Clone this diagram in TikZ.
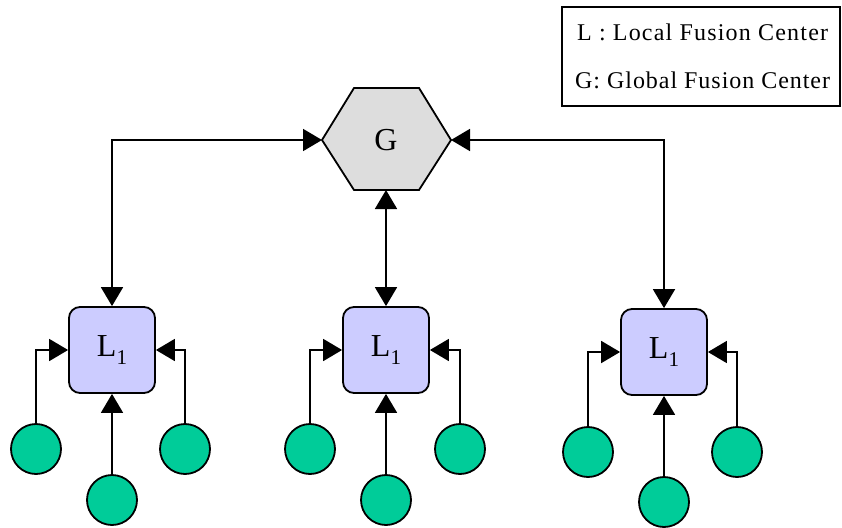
\documentclass[tikz,border=0pt]{standalone}
\usepackage{fontspec}
\setmainfont{Liberation Serif}
\usetikzlibrary{arrows.meta}
\definecolor{localfill}{HTML}{CCCCFF}
\definecolor{sensorfill}{HTML}{00CC99}
\definecolor{globalfill}{HTML}{DDDDDD}
\tikzset{
  tip/.tip={Triangle[length=19pt,width=22pt]},
  link/.style={line width=1.8pt, -tip},
  duallink/.style={line width=1.8pt, tip-tip},
  localbox/.style={draw, line width=1.8pt, fill=localfill, rounded corners=11pt,
    minimum width=86pt, minimum height=86pt, inner sep=0pt,
    font=\fontsize{32}{32}\selectfont},
  sensor/.style={draw, line width=1.8pt, fill=sensorfill, circle,
    minimum size=50pt, inner sep=0pt},
  legendtext/.style={anchor=base west, inner sep=0pt}
}
\newcommand{\Lone}{L\raisebox{-0.22em}{\fontsize{21}{21}\selectfont 1}}
\begin{document}
\begin{tikzpicture}[x=1pt, y=-1pt]
\useasboundingbox (0,0) rectangle (842,527);

% legend
\draw[line width=1.4pt] (562,7) rectangle (840,106);
\node[legendtext, font=\fontsize{24}{24}\selectfont\addfontfeatures{LetterSpace=5}]
  (legl) at (577,41) {L : Local Fusion Center};
\node[legendtext, font=\fontsize{24}{24}\selectfont\addfontfeatures{LetterSpace=4}]
  (legg) at (575,88) {G: Global Fusion Center};

% global fusion center (hexagon)
\coordinate (gl) at (322,140);
\coordinate (gr) at (451,140);
\coordinate (gb) at (386,190);
\draw[line width=1.8pt, fill=globalfill, line join=miter]
  (gl) -- (354,88) -- (419,88) -- (gr) -- (419,190) -- (354,190) -- cycle;
\node[font=\fontsize{32}{32}\selectfont] (g) at (386,140) {G};

% local fusion centers
\node[localbox] (l1) at (112,350) {\Lone};
\node[localbox] (l2) at (386,350) {\Lone};
\node[localbox] (l3) at (664,352) {\Lone};

% sensors
\node[sensor] (s1a) at (36,449) {};
\node[sensor] (s1b) at (112,500) {};
\node[sensor] (s1c) at (185,449) {};
\node[sensor] (s2a) at (310,449) {};
\node[sensor] (s2b) at (386,500) {};
\node[sensor] (s2c) at (460,449) {};
\node[sensor] (s3a) at (588,452) {};
\node[sensor] (s3b) at (664,502) {};
\node[sensor] (s3c) at (737,452) {};

% global <-> local links
\draw[duallink] (gl) -| (l1.north);
\draw[duallink] (gr) -| (l3.north);
\draw[duallink] (gb) -- (l2.north);

% sensor -> local links
\foreach \l in {1,2,3}{
  \draw[link] (s\l a.north) |- (l\l.west);
  \draw[link] (s\l c.north) |- (l\l.east);
  \draw[link] (s\l b.north) -- (l\l.south);
}
\end{tikzpicture}
\end{document}
